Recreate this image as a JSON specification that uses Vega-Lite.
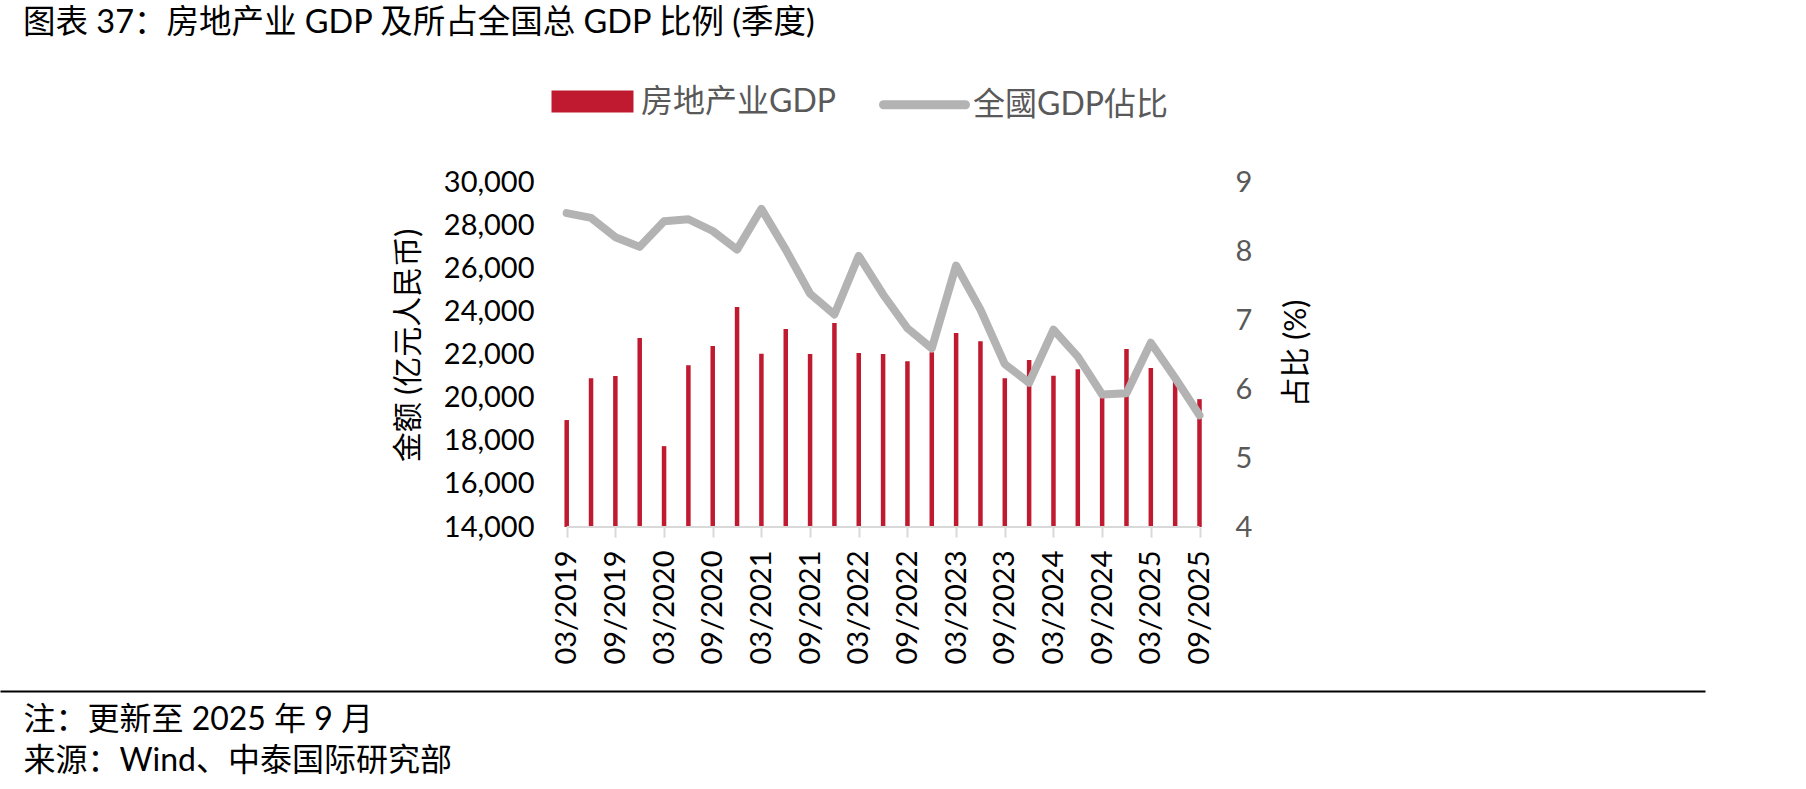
{
  "$schema": "https://vega.github.io/schema/vega-lite/v6.json",
  "width": 1705,
  "height": 345,
  "autosize": {"type": "none"},
  "padding": {"left": 0, "top": 182, "right": 101, "bottom": 262},
  "background": "white",
  "config": {
    "font": "Lato, 'Noto Sans CJK SC', sans-serif",
    "view": {"stroke": null}
  },
  "title": {
    "text": "图表 37：房地产业 GDP 及所占全国总 GDP 比例 (季度)",
    "anchor": "start",
    "frame": "group",
    "orient": "top",
    "dx": 23,
    "offset": 16.5,
    "fontSize": 32.5,
    "fontWeight": "normal",
    "color": "#000000",
    "font": "Lato, 'Noto Sans CJK SC', sans-serif"
  },
  "data": {
    "values": [
      {"q": "03/2019", "gdp": 18960, "ratio": 8.55},
      {"q": "06/2019", "gdp": 20900, "ratio": 8.48},
      {"q": "09/2019", "gdp": 21000, "ratio": 8.2},
      {"q": "12/2019", "gdp": 22760, "ratio": 8.06},
      {"q": "03/2020", "gdp": 17750, "ratio": 8.43},
      {"q": "06/2020", "gdp": 21500, "ratio": 8.46},
      {"q": "09/2020", "gdp": 22390, "ratio": 8.29},
      {"q": "12/2020", "gdp": 24200, "ratio": 8.02},
      {"q": "03/2021", "gdp": 22030, "ratio": 8.61},
      {"q": "06/2021", "gdp": 23180, "ratio": 8.02},
      {"q": "09/2021", "gdp": 22020, "ratio": 7.38},
      {"q": "12/2021", "gdp": 23460, "ratio": 7.08},
      {"q": "03/2022", "gdp": 22070, "ratio": 7.93},
      {"q": "06/2022", "gdp": 22020, "ratio": 7.37},
      {"q": "09/2022", "gdp": 21690, "ratio": 6.88},
      {"q": "12/2022", "gdp": 22100, "ratio": 6.59},
      {"q": "03/2023", "gdp": 23000, "ratio": 7.79},
      {"q": "06/2023", "gdp": 22620, "ratio": 7.15},
      {"q": "09/2023", "gdp": 20900, "ratio": 6.36},
      {"q": "12/2023", "gdp": 21740, "ratio": 6.09},
      {"q": "03/2024", "gdp": 21020, "ratio": 6.86},
      {"q": "06/2024", "gdp": 21320, "ratio": 6.47},
      {"q": "09/2024", "gdp": 20150, "ratio": 5.92},
      {"q": "12/2024", "gdp": 22250, "ratio": 5.94},
      {"q": "03/2025", "gdp": 21370, "ratio": 6.67},
      {"q": "06/2025", "gdp": 20800, "ratio": 6.16},
      {"q": "09/2025", "gdp": 19930, "ratio": 5.62}
    ]
  },
  "layer": [
    {
      "mark": {"type": "bar", "size": 4.5},
      "encoding": {
        "x": {
          "field": "q",
          "type": "ordinal",
          "sort": null,
          "scale": {
            "type": "point",
            "padding": 0,
            "range": [566.7, 1199.5],
            "domain": ["03/2019","06/2019","09/2019","12/2019","03/2020","06/2020","09/2020","12/2020","03/2021","06/2021","09/2021","12/2021","03/2022","06/2022","09/2022","12/2022","03/2023","06/2023","09/2023","12/2023","03/2024","06/2024","09/2024","12/2024","03/2025","06/2025","09/2025"]
          },
          "axis": {
            "orient": "bottom",
            "title": null,
            "domain": false,
            "values": ["03/2019","09/2019","03/2020","09/2020","03/2021","09/2021","03/2022","09/2022","03/2023","09/2023","03/2024","09/2024","03/2025","09/2025"],
            "ticks": true,
            "tickColor": "#D9D9D9",
            "tickSize": 10,
            "tickWidth": 2,
            "labelAngle": -90,
            "labelFontSize": 29,
            "labelColor": "#000000",
            "labelPadding": 13,
            "grid": false
          }
        },
        "y": {
          "field": "gdp",
          "type": "quantitative",
          "scale": {"domain": [14000, 30000], "nice": false, "zero": false},
          "axis": {
            "orient": "left",
            "offset": -567,
            "domain": false,
            "ticks": false,
            "grid": false,
            "values": [14000, 16000, 18000, 20000, 22000, 24000, 26000, 28000, 30000],
            "format": ",d",
            "labelFontSize": 29,
            "labelColor": "#000000",
            "labelPadding": 33,
            "title": "金额 (亿元人民币)",
            "titleFontSize": 30,
            "titleFontWeight": "normal",
            "titleColor": "#000000",
            "titleAngle": -90,
            "titleX": -159,
            "titleY": 163,
            "titleBaseline": "middle",
            "titleAlign": "center"
          }
        },
        "y2": {"datum": 14000},
        "color": {
          "datum": "房地产业GDP",
          "scale": {"domain": ["房地产业GDP", "全國GDP佔比"], "range": ["#BF1A2F", "#B3B3B3"]},
          "legend": {
            "orient": "none",
            "legendX": 547,
            "legendY": -126,
            "direction": "horizontal",
            "title": null,
            "padding": 0,
            "labelFontSize": 32,
            "labelColor": "#595959",
            "labelLimit": 400,
            "labelOffset": 3,
            "columnPadding": 29,
            "symbolType": "stroke",
            "symbolSize": 6724,
            "symbolStrokeWidth": 9,
            "encode": {
              "symbols": {
                "update": {
                  "shape": {"signal": "datum.value === '房地产业GDP' ? 'M-0.89,-0.1585H0.89V0.1585H-0.89Z' : 'stroke'"},
                  "fill": {"signal": "datum.value === '房地产业GDP' ? '#BF1A2F' : 'transparent'"},
                  "stroke": {"signal": "datum.value === '房地产业GDP' ? '#BF1A2F' : '#B3B3B3'"},
                  "strokeWidth": {"value": 9},
                  "strokeJoin": {"value": "miter"},
                  "strokeCap": {"signal": "datum.value === '房地产业GDP' ? 'butt' : 'round'"},
                  "opacity": {"value": 1}
                }
              }
            }
          }
        }
      }
    },
    {
      "mark": {"type": "line", "strokeWidth": 8, "strokeCap": "round", "strokeJoin": "round"},
      "encoding": {
        "x": {
          "field": "q",
          "type": "ordinal",
          "sort": null,
          "scale": {
            "type": "point",
            "padding": 0,
            "range": [566.7, 1199.5],
            "domain": ["03/2019","06/2019","09/2019","12/2019","03/2020","06/2020","09/2020","12/2020","03/2021","06/2021","09/2021","12/2021","03/2022","06/2022","09/2022","12/2022","03/2023","06/2023","09/2023","12/2023","03/2024","06/2024","09/2024","12/2024","03/2025","06/2025","09/2025"]
          },
          "axis": null
        },
        "y": {
          "field": "ratio",
          "type": "quantitative",
          "scale": {"domain": [4, 9], "nice": false, "zero": false},
          "axis": {
            "orient": "right",
            "offset": -505.5,
            "domain": false,
            "ticks": false,
            "grid": false,
            "values": [4, 5, 6, 7, 8, 9],
            "format": "d",
            "labelFontSize": 29,
            "labelColor": "#595959",
            "labelPadding": 35.5,
            "title": "占比 (%)",
            "titleFontSize": 30,
            "titleFontWeight": "normal",
            "titleColor": "#000000",
            "titleAngle": -90,
            "titleX": 96.5,
            "titleY": 171,
            "titleBaseline": "middle",
            "titleAlign": "center"
          }
        },
        "color": {"datum": "全國GDP佔比"}
      }
    },
    {
      "data": {"values": [{"a": "03/2019", "b": "09/2025"}]},
      "mark": {"type": "rule", "color": "#D9D9D9", "strokeWidth": 2},
      "encoding": {
        "x": {
          "field": "a",
          "type": "ordinal",
          "sort": null,
          "scale": {
            "type": "point",
            "padding": 0,
            "range": [566.7, 1199.5],
            "domain": ["03/2019","06/2019","09/2019","12/2019","03/2020","06/2020","09/2020","12/2020","03/2021","06/2021","09/2021","12/2021","03/2022","06/2022","09/2022","12/2022","03/2023","06/2023","09/2023","12/2023","03/2024","06/2024","09/2024","12/2024","03/2025","06/2025","09/2025"]
          },
          "axis": null
        },
        "x2": {"field": "b"},
        "y": {"datum": 14000, "scale": {"domain": [14000, 30000], "nice": false, "zero": false}, "axis": null}
      }
    },
    {
      "data": {"values": [{"f": 0}]},
      "mark": {"type": "rule", "opacity": 0},
      "encoding": {
        "x": {
          "field": "f",
          "type": "quantitative",
          "scale": {"domain": [0, 1], "range": [0, 1705], "nice": false, "zero": false},
          "axis": {
            "orient": "bottom",
            "offset": 164,
            "domain": true,
            "domainColor": "#000000",
            "domainWidth": 2,
            "ticks": false,
            "labels": false,
            "grid": false,
            "title": ["注：更新至 2025 年 9 月", "来源：Wind、中泰国际研究部"],
            "titleAnchor": "start",
            "titleAlign": "left",
            "titleX": 23,
            "titleY": 28.5,
            "titleBaseline": "middle",
            "titleLineHeight": 41,
            "titleFontSize": 32,
            "titleFontWeight": "normal",
            "titleColor": "#000000"
          }
        }
      }
    }
  ],
  "resolve": {"scale": {"x": "independent", "y": "independent"}, "axis": {"x": "independent", "y": "independent"}}
}
